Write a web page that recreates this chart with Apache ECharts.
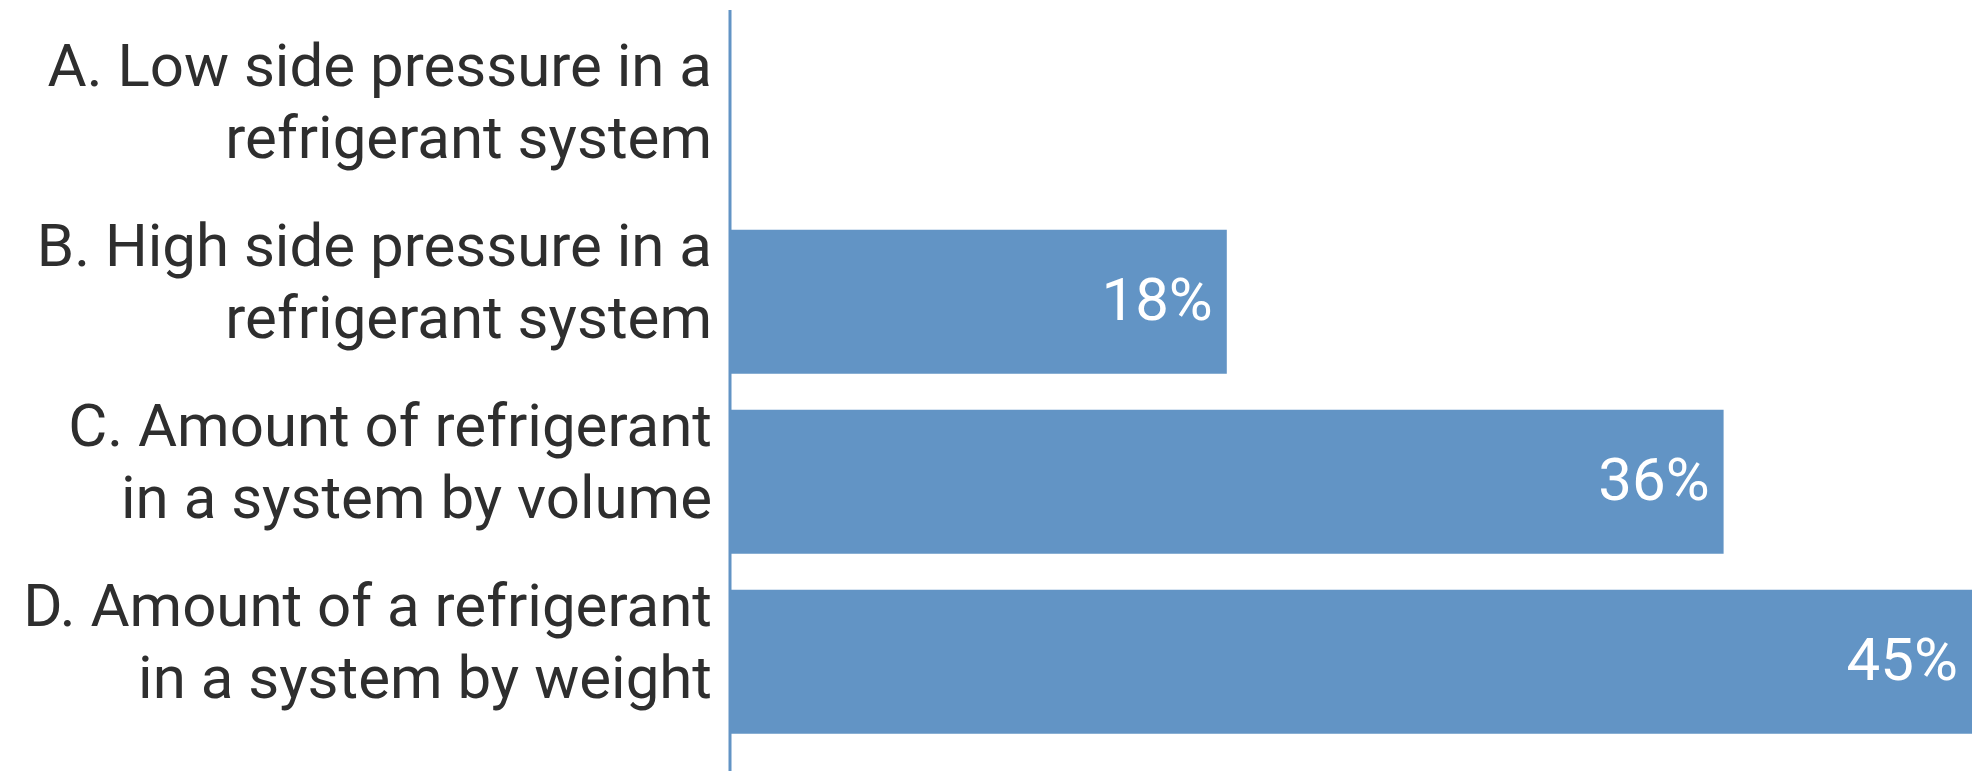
<!DOCTYPE html>
<html>
<head>
<meta charset="utf-8">
<script src="https://cdn.jsdelivr.net/npm/echarts@6/dist/echarts.min.js"></script>
<style>
  html, body { margin: 0; padding: 0; background: #ffffff; }
  #chart { width: 1982px; height: 771px; }
</style>
</head>
<body>
<div id="chart"></div>
<script>
// Answer options (two-line labels) and share of responses, in percent
const categories = [
  'A. Low side pressure in a\nrefrigerant system',
  'B. High side pressure in a\nrefrigerant system',
  'C. Amount of refrigerant\nin a system by volume',
  'D. Amount of a refrigerant\nin a system by weight'
];
const shares = [0, 18, 36, 45];
const shareMax = 45;

const BAR_BLUE = '#6294c5';
const FONT = 'Roboto, "Noto Sans", sans-serif';

// Bars sit in grid 0; the category names are set on a companion axis in
// grid 1, raised slightly so each two-line name tops out at its bar's top edge.
const BAR_TOP = 31.7, BAR_BOTTOM = 19.3, NAME_LIFT = 15;

const chart = echarts.init(document.getElementById('chart'), null, { renderer: 'canvas' });

chart.setOption({
  animation: false,
  backgroundColor: '#ffffff',
  grid: [
    { left: 730, right: 10, top: BAR_TOP, bottom: BAR_BOTTOM, containLabel: false },
    { left: 730, right: 10, top: BAR_TOP - NAME_LIFT, bottom: BAR_BOTTOM + NAME_LIFT, containLabel: false }
  ],
  xAxis: [
    { type: 'value', gridIndex: 0, min: 0, max: shareMax, show: false },
    { type: 'value', gridIndex: 1, min: 0, max: shareMax, show: false }
  ],
  yAxis: [
    {
      type: 'category',
      gridIndex: 0,
      data: categories,
      inverse: true,
      axisLine: { show: false },
      axisTick: { show: false },
      axisLabel: { show: false },
      splitLine: { show: false }
    },
    {
      type: 'category',
      gridIndex: 1,
      data: categories,
      inverse: true,
      axisLine: { show: false },
      axisTick: { show: false },
      splitLine: { show: false },
      axisLabel: {
        interval: 0,
        color: '#2e2e2e',
        fontFamily: FONT,
        fontWeight: 400,
        fontSize: 60,
        lineHeight: 72,
        align: 'right',
        margin: 18
      }
    }
  ],
  series: [{
    type: 'bar',
    xAxisIndex: 0,
    yAxisIndex: 0,
    data: shares,
    barCategoryGap: '20%',
    itemStyle: { color: BAR_BLUE },
    label: {
      show: true,
      position: 'insideRight',
      distance: 14,
      offset: [0, 3],
      color: '#ffffff',
      fontFamily: FONT,
      fontWeight: 400,
      fontSize: 60,
      formatter: p => (p.value > 0 ? p.value + '%' : '')
    }
  }]
});

// Vertical axis rule at the zero baseline, running nearly the full height
const x0 = chart.convertToPixel({ xAxisIndex: 0 }, 0);
chart.setOption({
  graphic: [{
    type: 'line',
    shape: { x1: x0, y1: 10, x2: x0, y2: 771 },
    style: { stroke: BAR_BLUE, lineWidth: 3 },
    z: 10
  }]
});
</script>
</body>
</html>
